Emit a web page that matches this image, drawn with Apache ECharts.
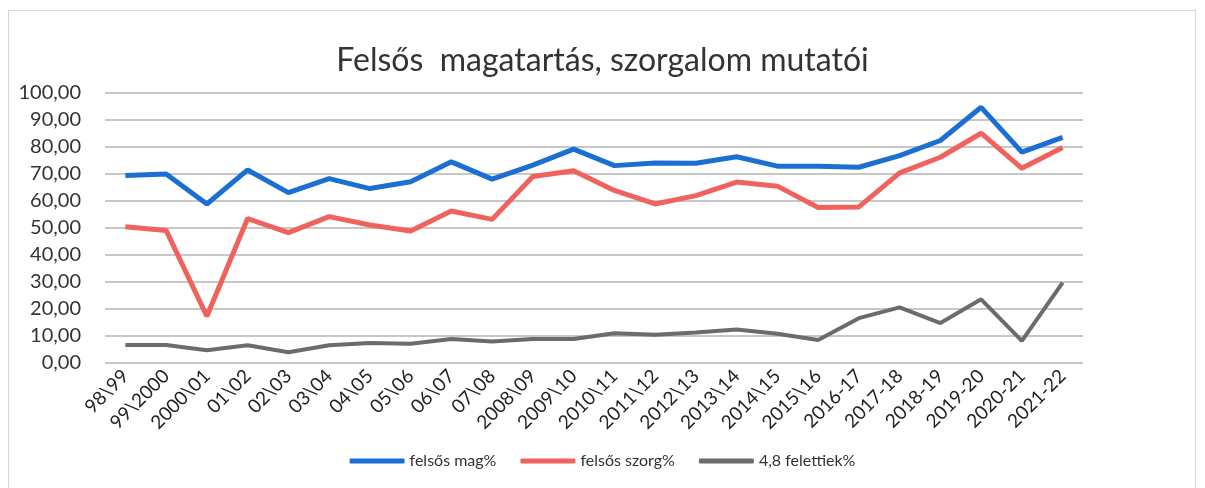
<!DOCTYPE html>
<html>
<head>
<meta charset="utf-8">
<script src="https://cdn.jsdelivr.net/npm/echarts@6/dist/echarts.min.js"></script>
<style>
    html, body {
        margin: 0;
        padding: 0;
        background: #fff;
    }
    .frame {
        position: absolute;
        left: 8px;
        top: 10px;
        width: 1188px;
        height: 490px;
        border: 1px solid #d6d6d6;
        box-sizing: border-box;
    }
    #chart {
        width: 1205px;
        height: 488px;
    }
</style>
</head>
<body>
<div class="frame"></div>
<div id="chart"></div>
<script>
// tanévek
const categories = [
    '98\\99', '99\\2000', '2000\\01', '01\\02', '02\\03', '03\\04', '04\\05', '05\\06',
    '06\\07', '07\\08', '2008\\09', '2009\\10', '2010\\11', '2011\\12', '2012\\13', '2013\\14',
    '2014\\15', '2015\\16', '2016-17', '2017-18', '2018-19', '2019-20', '2020-21', '2021-22'
]
const magData = [
    69.4, 70.0, 58.9, 71.5, 63.1, 68.3, 64.6, 67.1, 74.5, 68.1, 73.3, 79.2,
    73.1, 74.1, 74.0, 76.4, 72.9, 72.9, 72.5, 76.8, 82.4, 94.7, 78.1, 83.6
]
const szorgData = [
    50.5, 49.1, 17.3, 53.5, 48.3, 54.2, 51.1, 48.9, 56.3, 53.2, 69.1, 71.2,
    63.9, 58.9, 62.0, 67.0, 65.5, 57.6, 57.8, 70.4, 76.2, 85.1, 72.1, 79.8
]
const felettData = [
    6.7, 6.7, 4.7, 6.6, 4.0, 6.6, 7.4, 7.1, 8.9, 8.0, 8.9, 8.9,
    11.0, 10.5, 11.3, 12.4, 10.8, 8.5, 16.6, 20.6, 14.8, 23.6, 8.2, 29.8
]
const seriesNames = ['felsős mag%', 'felsős szorg%', '4,8 felettiek%']

const font = 'Lato, "Open Sans", sans-serif'
const chart = echarts.init(document.getElementById('chart'))

const option = {
    backgroundColor: 'transparent',
    animation: false,
    title: {
        text: 'Felsős  magatartás, szorgalom mutatói',
        left: 'center',
        top: 40,
        textStyle: {
            fontFamily: font,
            fontSize: 32,
            fontWeight: 'normal',
            color: '#333'
        }
    },
    legend: {
        bottom: 14,
        left: 'center',
        icon: 'roundRect',
        itemWidth: 55,
        itemHeight: 5,
        itemGap: 24,
        textStyle: {
            fontFamily: font,
            fontSize: 16,
            color: '#333'
        },
        data: seriesNames
    },
    grid: {
        left: 105,
        right: 122,
        top: 93,
        bottom: 125
    },
    xAxis: {
        type: 'category',
        data: categories,
        boundaryGap: true,
        axisLine: { show: false },
        axisTick: { show: false },
        axisLabel: {
            interval: 0,
            rotate: 45,
            margin: 10,
            fontFamily: font,
            fontSize: 19,
            color: '#222'
        }
    },
    yAxis: {
        type: 'value',
        min: 0,
        max: 100,
        interval: 10,
        axisLine: { show: false },
        axisTick: { show: false },
        axisLabel: {
            margin: 24,
            fontFamily: font,
            fontSize: 20,
            color: '#333',
            formatter: v => v.toFixed(2).replace('.', ',')
        },
        splitLine: {
            lineStyle: { color: '#b5b5b5', width: 1.5 }
        }
    },
    color: ['#1b6fd2', '#f0625c', '#6b6b6b'],
    series: [
        {
            name: seriesNames[0],
            type: 'line',
            data: magData,
            symbol: 'none',
            lineStyle: { width: 5 }
        },
        {
            name: seriesNames[1],
            type: 'line',
            data: szorgData,
            symbol: 'none',
            lineStyle: { width: 5 }
        },
        {
            name: seriesNames[2],
            type: 'line',
            data: felettData,
            symbol: 'none',
            lineStyle: { width: 4 }
        }
    ]
}
chart.setOption(option)
</script>
</body>
</html>
